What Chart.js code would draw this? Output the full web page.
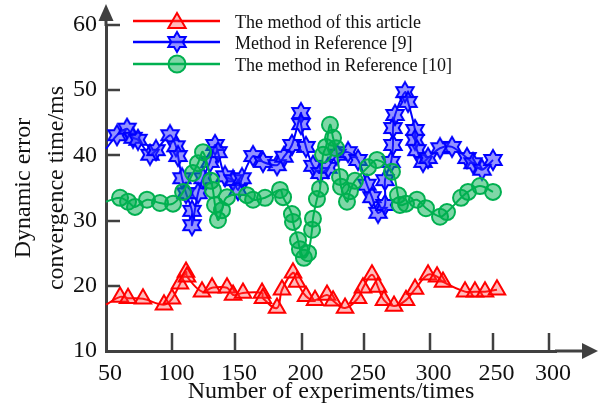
<!DOCTYPE html>
<html><head><meta charset="utf-8">
<script src="https://cdn.jsdelivr.net/npm/chart.js@4.4.1/dist/chart.umd.min.js"></script>
<style>html,body{margin:0;padding:0;background:#fff;}#wrap{width:601px;height:407px;}</style>
</head><body><div id="wrap"><canvas id="c" width="601" height="407"></canvas></div>
<script>
const seriesNames = ['The method of this article', 'Method in Reference [9]', 'The method in Reference [10]'];

const redX = [50,60.9,67.1,78.7,95.0,101.2,107.4,112.1,112.9,124.5,132.3,143.9,148.6,156.3,171.1,171.8,182.7,186.6,195.1,198.2,205.2,212.2,221.5,226.2,235.5,245.6,249.4,256.4,261.1,265.7,273.5,282.8,289.8,299.9,306.9,311.5,328.6,336.3,344.1,353.4];
const redY = [17.1,18.3,18.1,18.0,17.1,18.0,20.3,22.1,21.4,19.1,19.7,19.7,18.6,18.9,18.9,18.1,16.6,19.4,22.0,20.6,18.4,17.8,18.6,17.7,16.6,18.1,19.7,21.7,19.8,17.8,16.9,17.8,19.5,21.7,21.4,20.6,19.1,19.1,19.1,19.4];

const blueX = [50,58.5,66.3,71.0,74.8,84.1,88.8,99.7,104.3,105.9,109.0,112.1,116.7,116.7,121.4,125.3,130.7,134.6,136.9,142.3,148.6,152.4,155.5,164.1,171.8,182.7,188.1,194.3,201.3,201.3,205.2,210.6,216.1,222.3,229.3,237.8,245.6,252.5,256.4,261.1,266.5,266.5,271.2,272.7,272.7,274.3,282.0,284.4,289.8,289.8,291.3,296.0,299.9,309.2,318.5,330.1,334.8,341.8,350.3];
const blueY = [41.0,43.1,44.1,42.7,42.4,40.1,40.8,43.1,41.4,39.9,36.5,34.2,31.5,29.3,34.2,36.5,39.0,41.6,40.5,36.8,36.2,34.7,36.5,39.9,39.0,38.5,39.8,41.6,46.5,44.8,41.3,38.4,37.3,38.1,40.1,40.5,39.3,35.5,33.6,31.2,32.4,36.2,39.0,41.6,44.2,46.2,49.7,48.2,43.9,42.4,40.8,39.0,39.6,41.1,41.3,39.6,38.8,37.8,39.3];

const greenX = [50,60.9,67.1,72.5,81.8,91.9,102.0,109.8,117.5,121.4,125.3,131.5,133.0,134.6,136.9,140.0,143.9,159.4,164.1,173.4,185.0,187.4,194.3,195.1,199.0,200.5,203.6,206.8,209.9,210.6,213.7,216.1,218.4,220.7,223.8,226.2,228.5,231.6,232.4,237.0,239.3,243.2,253.3,260.3,271.9,276.6,278.1,282.8,291.3,298.3,309.2,314.6,325.5,330.9,340.2,350.3];
const greenY = [32.9,33.5,32.9,32.1,33.2,32.7,32.6,34.4,37.3,38.8,40.5,36.1,34.7,32.4,30.1,31.6,33.6,33.9,33.2,33.5,34.7,33.6,31.0,29.8,27.0,25.6,24.3,25.0,28.6,30.3,33.3,34.9,40.1,41.3,44.7,42.7,41.1,36.7,35.2,32.9,34.5,36.1,38.2,39.3,37.5,33.9,32.4,32.6,33.2,31.9,30.6,31.3,33.5,34.4,35.3,34.4];

const xTickValues = [50,101.6,150.1,201.8,250.2,301.1,350,393.8];
const xTickLabels = ['50','100','150','200','250','300','250','300'];
const yTickValues = [10,20,30,40,50,60];

const FONT = "'Liberation Serif', 'Times New Roman', serif";
const TXT = '#111111';
const AX = '#404040';

function makeStar(size, R, fill, stroke, lw) {
  const c = document.createElement('canvas');
  c.width = c.height = size;
  const g = c.getContext('2d');
  const cx = size / 2, cy = size / 2, r = R / Math.sqrt(3);
  g.beginPath();
  for (let i = 0; i < 12; i++) {
    const a = -Math.PI / 2 + i * Math.PI / 6;
    const rr = i % 2 === 0 ? R : r;
    g.lineTo(cx + rr * Math.cos(a), cy + rr * Math.sin(a));
  }
  g.closePath();
  g.fillStyle = fill; g.fill();
  g.lineWidth = lw; g.strokeStyle = stroke; g.lineJoin = 'miter'; g.stroke();
  return c;
}
const starImg = makeStar(24, 10, 'rgba(40,40,255,0.5)', '#0000ff', 2);

const pts = (xs, ys) => xs.map((x, i) => ({x: x, y: ys[i]}));
const firstHidden = r => (ctx => ctx.dataIndex === 0 ? 0 : r);

const legendDecor = {
  id: 'legendDecor',
  afterDraw(chart) {
    const {ctx} = chart;
    const rows = [21, 42, 64];
    ctx.save();
    chart.data.datasets.forEach((ds, i) => {
      const yy = rows[i];
      ctx.strokeStyle = ds.borderColor; ctx.lineWidth = 2.5;
      ctx.beginPath(); ctx.moveTo(133, yy); ctx.lineTo(220, yy); ctx.stroke();
      if (ds.legendStyle === 'star') {
        ctx.drawImage(starImg, 177 - 12, yy - 12);
      } else {
        ctx.fillStyle = ds.pointBackgroundColor; ctx.strokeStyle = ds.pointBorderColor; ctx.lineWidth = 2;
        Chart.helpers.drawPoint(ctx, {pointStyle: ds.legendStyle, radius: ds.legendStyle === 'triangle' ? 10 : 8.5, borderWidth: 2, rotation: 0}, 177, yy + (ds.legendStyle === 'triangle' ? 2 : 0));
      }
      ctx.fillStyle = TXT; ctx.font = "18px " + FONT; ctx.textBaseline = 'alphabetic'; ctx.textAlign = 'left';
      ctx.fillText(seriesNames[i], 235, yy + 7);
    });
    ctx.restore();
  }
};

const axisDecor = {
  id: 'axisDecor',
  afterDraw(chart) {
    const ctx = chart.ctx;
    const a = chart.chartArea;
    const xs = chart.scales.x, ys = chart.scales.y;
    ctx.save();
    ctx.setLineDash([]);
    ctx.globalAlpha = 1;
    ctx.strokeStyle = AX; ctx.fillStyle = AX;
    ctx.lineWidth = 3;
    ctx.beginPath(); ctx.moveTo(a.left, a.top + 1); ctx.lineTo(a.left, 18); ctx.stroke();
    ctx.beginPath(); ctx.moveTo(a.right - 1, a.bottom); ctx.lineTo(586, a.bottom); ctx.stroke();
    ctx.beginPath(); ctx.moveTo(a.left, 4); ctx.lineTo(a.left - 7.5, 21); ctx.lineTo(a.left + 7.5, 21); ctx.closePath(); ctx.fill();
    ctx.beginPath(); ctx.moveTo(598, a.bottom); ctx.lineTo(582, a.bottom - 8); ctx.lineTo(582, a.bottom + 8); ctx.closePath(); ctx.fill();
    ctx.lineWidth = 2.5;
    ctx.beginPath();
    for (let i = 1; i < xTickValues.length; i++) {
      const px = Math.round(xs.getPixelForValue(xTickValues[i]));
      ctx.moveTo(px, a.bottom - 1); ctx.lineTo(px, a.bottom - 18);
    }
    for (let i = 1; i < yTickValues.length; i++) {
      const py = Math.round(ys.getPixelForValue(yTickValues[i]));
      ctx.moveTo(a.left + 1, py); ctx.lineTo(a.left + 14, py);
    }
    ctx.stroke();
    ctx.restore();
  }
};

new Chart(document.getElementById('c'), {
  type: 'line',
  data: {
    datasets: [
      {label: seriesNames[0], data: pts(redX, redY), borderColor: '#ff0000', borderWidth: 2,
       pointStyle: 'triangle', legendStyle: 'triangle', pointRadius: firstHidden(9.5), pointBorderWidth: 2,
       pointBackgroundColor: 'rgba(255,60,60,0.35)', pointBorderColor: '#ff0000', tension: 0.4, order: 0, clip: false},
      {label: seriesNames[1], data: pts(blueX, blueY), borderColor: '#0000ff', borderWidth: 2,
       pointStyle: starImg, legendStyle: 'star', pointRadius: firstHidden(9), pointBorderWidth: 2,
       pointBackgroundColor: 'rgba(40,40,255,0.5)', pointBorderColor: '#0000ff', tension: 0.3, order: 2, clip: false},
      {label: seriesNames[2], data: pts(greenX, greenY), borderColor: '#00b050', borderWidth: 2,
       pointStyle: 'circle', legendStyle: 'circle', pointRadius: firstHidden(8), pointBorderWidth: 2,
       pointBackgroundColor: 'rgba(0,176,80,0.5)', pointBorderColor: '#00b050', tension: 0.4, order: 1, clip: false}
    ]
  },
  options: {
    responsive: false, animation: false, events: [],
    layout: {padding: {left: 0, top: 25, right: 45, bottom: 0}},
    plugins: {legend: {display: false}, tooltip: {enabled: false}},
    scales: {
      x: {
        type: 'linear', min: 50, max: 399.2,
        grid: {display: false, drawTicks: false},
        border: {display: true, color: AX, width: 3},
        afterBuildTicks: s => { s.ticks = xTickValues.map(v => ({value: v})); },
        afterFit: s => { s.height = 56; },
        ticks: {autoSkip: false, maxRotation: 0, padding: 8, labelOffset: 4, color: TXT,
                font: {family: FONT, size: 24}, callback: (v, i) => xTickLabels[i]},
        title: {display: true, text: 'Number of experiments/times', color: TXT,
                font: {family: FONT, size: 24, lineHeight: 1.2}, padding: {top: 0, bottom: 1}}
      },
      y: {
        type: 'linear', min: 10, max: 60,
        grid: {display: false, drawTicks: false},
        border: {display: true, color: AX, width: 3},
        afterBuildTicks: s => { s.ticks = yTickValues.map(v => ({value: v})); },
        afterFit: s => { s.width = 106; },
        ticks: {autoSkip: false, padding: 9, color: TXT, font: {family: FONT, size: 24},
                callback: v => String(v)},
        title: {display: true, text: ['Dynamic error', 'convergence time/ms'], color: TXT,
                font: {family: FONT, size: 24, lineHeight: 1.375}, padding: {top: 7, bottom: 0}}
      }
    }
  },
  plugins: [legendDecor, axisDecor]
});
</script>
</body></html>
